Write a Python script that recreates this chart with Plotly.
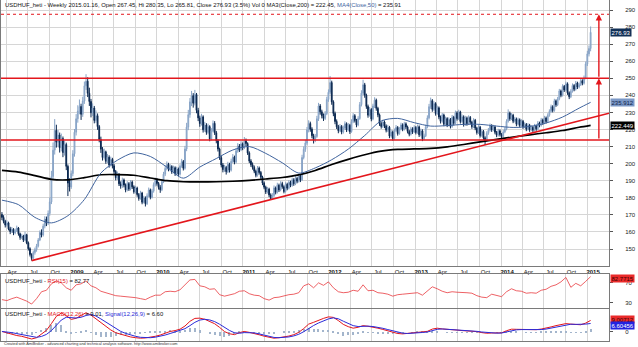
import pandas as pd
import plotly.graph_objects as go

# ---------------- weekly USDHUF bars (Friday closes) ----------------
opens = [
    170.2, 168.5, 166.2, 164.0, 165.3, 161.8, 160.2, 161.5, 159.4, 160.8,
    162.3, 158.9, 156.8, 157.6, 155.2, 158.4, 153.6, 150.2, 146.8, 144.5,
    147.9, 149.6, 151.8, 155.3, 159.7, 158.2, 163.4, 167.5, 165.1, 170.8,
    177.6, 192.4, 207.9, 219.5, 212.6, 216.8, 209.3, 214.7, 206.5, 211.2,
    198.4, 188.6, 186.3, 194.2, 205.8, 218.4, 226.3, 230.8, 233.5, 228.9,
    236.7, 245.6, 248.3, 241.2, 236.4, 229.8, 232.6, 225.3, 228.1, 221.7,
    214.2, 208.5, 203.6, 206.9, 201.4, 203.8, 199.2, 202.5, 198.7, 195.4,
    191.8, 193.6, 188.2, 186.9, 190.4, 187.5, 184.6, 188.3, 185.1, 189.2,
    186.4, 183.5, 185.7, 181.9, 179.6, 182.8, 177.4, 179.9, 176.5, 181.2,
    184.6, 180.3, 183.9, 187.7, 190.2, 188.4, 186.1, 184.7, 189.5, 193.8,
    197.2, 199.6, 196.8, 198.3, 195.2, 197.6, 194.1, 196.9, 193.8, 198.5,
    201.2, 197.3, 208.6, 221.4, 228.7, 236.2, 239.8, 235.4, 240.5, 231.2,
    226.8, 223.5, 227.4, 219.8, 222.6, 218.3, 221.7, 214.5, 219.2, 223.6,
    218.1, 213.4, 208.6, 203.5, 199.2, 196.5, 197.8, 195.3, 199.6, 196.2,
    201.4, 203.8, 200.9, 207.5, 210.3, 208.1, 211.6, 209.2, 213.4, 211.8,
    206.3, 201.5, 199.4, 197.8, 195.6, 193.2, 197.4, 194.8, 192.1, 188.6,
    186.2, 183.4, 185.1, 181.7, 179.5, 181.3, 185.8, 183.2, 187.4, 184.6,
    188.3, 186.5, 183.7, 187.9, 185.6, 189.1, 187.3, 190.6, 188.2, 191.4,
    189.7, 192.8, 190.5, 203.6, 208.4, 212.1, 219.8, 223.5, 220.2, 216.4,
    213.7, 215.9, 226.3, 233.8, 230.4, 228.1, 226.5, 229.3, 237.6, 241.8,
    247.5, 236.2, 229.4, 224.7, 221.6, 219.3, 221.8, 218.5, 220.9, 223.4,
    219.7, 222.5, 218.8, 224.6, 228.1, 225.3, 222.7, 226.4, 234.6, 241.3,
    246.2, 240.1, 233.5, 228.4, 231.7, 226.2, 233.8, 237.2, 232.4, 228.6,
    223.5, 221.8, 224.4, 222.1, 219.6, 221.3, 216.2, 218.5, 214.8, 219.4,
    221.2, 217.6, 220.3, 222.7, 220.1, 223.3, 221.5, 218.9, 217.2, 220.4,
    218.6, 221.2, 218.3, 221.6, 216.9, 219.2, 214.6, 216.3, 221.5, 226.8,
    233.4, 236.9, 231.8, 235.2, 229.4, 232.7, 227.3, 224.8, 228.5, 223.1,
    226.4, 222.6, 225.9, 221.8, 227.2, 223.6, 229.8, 226.4, 230.3, 224.7,
    227.5, 222.9, 226.8, 223.4, 227.1, 224.3, 221.6, 225.4, 220.8, 218.2,
    221.3, 216.5, 218.9, 215.1, 213.6, 217.8, 219.6, 222.3, 219.8, 221.5,
    218.4, 216.7, 219.2, 217.1, 215.9, 218.6, 220.3, 224.8, 229.6, 226.3,
    228.4, 224.9, 226.2, 223.1, 225.7, 222.4, 224.8, 221.6, 223.0, 220.2,
    222.5, 219.8, 221.3, 219.6, 222.1, 220.4, 223.8, 222.5, 225.6, 223.9,
    226.8, 224.7, 228.3, 230.6, 233.4, 231.2, 236.8, 234.5, 237.9, 242.6,
    240.1, 245.3, 243.2, 246.8, 241.5, 239.2, 242.4, 245.8, 243.6, 247.2,
    244.9, 246.3, 248.6, 247.1, 250.2, 258.4, 264.3, 267.45,
]
highs = [
    171.6, 169.8, 167.1, 166.8, 166.0, 163.0, 162.9, 162.2, 161.9, 163.7,
    162.9, 159.6, 158.9, 158.3, 160.1, 158.9, 154.4, 151.0, 147.5, 149.1,
    150.8, 153.0, 156.4, 160.9, 161.5, 164.8, 169.2, 169.0, 172.6, 180.2,
    195.8, 212.4, 226.1, 222.8, 219.7, 218.2, 217.6, 215.9, 213.5, 212.3,
    199.5, 191.4, 196.0, 207.9, 220.3, 229.0, 234.2, 237.6, 235.1, 239.2,
    248.1, 252.4, 250.6, 244.5, 237.9, 235.3, 233.8, 231.2, 229.4, 222.6,
    215.8, 209.7, 208.8, 207.6, 205.7, 204.9, 204.1, 203.4, 199.8, 196.3,
    195.4, 194.5, 189.6, 191.8, 191.3, 188.4, 189.7, 189.2, 190.4, 190.1,
    187.3, 187.0, 186.5, 182.8, 184.1, 183.5, 181.2, 180.8, 182.6, 186.0,
    185.4, 185.2, 189.0, 191.8, 191.5, 189.3, 187.4, 190.8, 195.2, 198.9,
    201.3, 200.5, 199.7, 199.1, 198.8, 198.4, 198.2, 197.7, 199.6, 202.8,
    202.1, 210.4, 223.9, 231.5, 238.4, 242.6, 241.3, 243.2, 241.4, 232.7,
    228.1, 229.2, 228.3, 224.5, 223.7, 223.4, 222.5, 220.8, 225.3, 224.9,
    219.2, 214.3, 209.4, 204.6, 200.4, 199.3, 198.7, 201.1, 200.5, 202.9,
    205.6, 204.7, 209.1, 212.0, 211.5, 213.2, 212.4, 215.6, 214.7, 212.5,
    207.2, 202.6, 200.7, 198.9, 196.5, 198.6, 198.3, 195.7, 192.9, 189.5,
    187.1, 186.4, 185.9, 182.6, 182.7, 187.2, 186.6, 188.8, 188.3, 189.7,
    189.4, 187.3, 189.1, 188.8, 190.3, 190.0, 191.8, 191.5, 192.7, 192.3,
    194.1, 193.6, 205.2, 210.1, 214.0, 221.5, 225.4, 224.6, 221.3, 217.5,
    217.4, 228.0, 235.6, 234.9, 231.6, 229.4, 230.8, 239.2, 243.5, 251.3,
    248.6, 237.1, 230.5, 225.9, 222.7, 223.2, 222.6, 222.3, 224.8, 224.2,
    223.8, 223.3, 226.0, 229.6, 229.0, 226.2, 227.8, 236.1, 243.0, 249.1,
    247.3, 241.0, 234.6, 233.2, 232.5, 235.1, 238.9, 238.1, 233.3, 229.4,
    224.7, 225.8, 225.3, 223.0, 222.7, 222.1, 219.8, 219.4, 220.6, 222.6,
    222.0, 221.5, 224.0, 223.6, 224.5, 224.2, 222.3, 219.8, 221.6, 221.3,
    222.5, 222.0, 222.9, 222.4, 220.5, 220.1, 217.6, 222.8, 228.3, 235.0,
    238.7, 237.8, 236.5, 236.0, 234.0, 233.5, 228.2, 229.7, 229.3, 227.6,
    227.2, 227.1, 226.7, 228.5, 228.0, 231.1, 230.7, 231.6, 231.0, 228.8,
    228.3, 228.0, 227.6, 228.3, 227.9, 225.1, 226.6, 226.2, 221.6, 222.5,
    222.1, 220.1, 219.7, 216.0, 219.0, 220.9, 223.5, 223.1, 222.7, 222.3,
    219.2, 220.4, 220.0, 217.9, 219.8, 221.5, 226.0, 231.8, 230.5, 229.6,
    229.2, 227.4, 227.0, 226.9, 226.5, 226.0, 225.6, 224.2, 223.8, 223.7,
    223.3, 222.5, 222.1, 223.3, 222.9, 225.0, 224.6, 226.8, 226.4, 228.0,
    227.6, 229.5, 231.8, 234.6, 234.2, 238.0, 237.6, 239.1, 243.8, 243.4,
    246.5, 246.1, 248.0, 247.6, 242.3, 243.6, 247.0, 246.6, 248.4, 248.0,
    247.5, 249.8, 249.4, 251.6, 259.8, 266.1, 269.2, 280.35,
]
lows = [
    166.9, 165.0, 162.6, 163.1, 160.9, 158.7, 159.4, 158.1, 158.6, 160.0,
    157.8, 155.4, 155.9, 154.1, 154.6, 152.8, 149.1, 145.6, 143.2, 143.9,
    146.7, 148.4, 150.9, 154.6, 156.8, 157.3, 162.1, 163.4, 164.0, 169.5,
    176.3, 190.6, 205.3, 209.4, 210.1, 206.5, 207.2, 203.8, 204.7, 196.2,
    181.0, 183.7, 185.2, 192.6, 204.1, 216.5, 224.0, 228.9, 225.6, 227.4,
    235.0, 243.2, 239.0, 233.8, 227.1, 227.9, 223.6, 223.9, 219.8, 212.5,
    206.3, 201.8, 202.4, 199.9, 200.2, 197.6, 198.3, 197.2, 194.0, 190.2,
    190.5, 186.9, 185.3, 185.8, 186.1, 183.2, 183.8, 184.0, 184.3, 185.2,
    182.4, 182.6, 180.6, 178.3, 178.9, 176.2, 176.7, 174.9, 175.8, 180.3,
    179.1, 179.6, 183.0, 186.6, 187.1, 184.8, 182.9, 183.9, 188.6, 192.7,
    196.1, 195.5, 195.6, 194.0, 194.3, 192.8, 193.3, 192.5, 193.0, 197.6,
    196.0, 196.5, 207.3, 219.6, 226.9, 233.7, 232.8, 234.1, 229.5, 224.9,
    221.6, 222.3, 218.2, 218.6, 216.9, 217.2, 213.1, 213.6, 218.4, 216.8,
    211.9, 207.1, 202.2, 197.8, 194.9, 195.2, 193.6, 194.5, 194.8, 195.4,
    200.3, 199.6, 200.1, 206.4, 206.8, 207.3, 207.9, 208.5, 210.2, 205.1,
    200.3, 198.1, 196.5, 194.4, 192.0, 192.4, 193.6, 190.9, 187.4, 185.0,
    182.2, 182.5, 180.4, 179.0, 179.3, 180.5, 182.0, 182.5, 183.4, 183.8,
    185.3, 182.6, 183.0, 184.4, 184.9, 186.2, 186.5, 187.0, 187.4, 188.5,
    188.9, 189.2, 189.8, 202.5, 206.9, 211.0, 218.3, 218.7, 214.9, 211.8,
    212.6, 215.1, 225.0, 228.7, 226.5, 225.0, 225.6, 228.4, 236.2, 240.6,
    234.5, 227.8, 223.1, 220.3, 217.8, 218.4, 217.2, 217.6, 219.9, 218.5,
    218.9, 217.4, 218.1, 223.7, 224.1, 221.3, 221.9, 225.7, 233.5, 240.0,
    238.6, 232.1, 226.9, 227.5, 224.8, 225.4, 232.6, 231.0, 227.2, 222.1,
    220.5, 220.9, 220.8, 218.3, 218.5, 214.9, 215.3, 213.5, 214.0, 218.5,
    216.4, 216.9, 219.5, 219.0, 219.4, 220.3, 217.7, 216.0, 216.5, 217.4,
    217.9, 217.1, 217.5, 215.6, 216.0, 213.2, 213.8, 215.6, 220.7, 225.9,
    232.1, 230.4, 230.9, 228.1, 228.6, 226.0, 223.5, 224.0, 221.9, 222.3,
    221.4, 221.8, 220.6, 221.0, 222.4, 222.9, 225.2, 225.6, 223.5, 223.9,
    221.7, 222.1, 222.2, 222.6, 223.1, 220.4, 220.8, 219.6, 217.0, 217.4,
    215.3, 215.7, 213.9, 210.9, 212.8, 216.9, 218.8, 218.6, 219.0, 217.2,
    215.5, 215.9, 215.9, 213.8, 215.1, 217.8, 219.5, 224.0, 225.1, 225.5,
    223.7, 224.1, 221.9, 222.3, 221.2, 221.6, 220.4, 220.8, 219.0, 219.4,
    218.6, 219.0, 218.4, 218.8, 219.2, 219.6, 221.3, 221.7, 222.7, 223.1,
    223.5, 223.9, 227.5, 229.8, 230.0, 230.4, 233.3, 233.7, 237.1, 238.9,
    239.3, 242.0, 242.4, 240.3, 237.8, 238.4, 241.6, 242.4, 242.8, 243.7,
    244.1, 245.5, 245.9, 246.3, 249.4, 257.2, 262.8, 265.81,
]
closes = [
    168.5, 166.2, 164.0, 165.3, 161.8, 160.2, 161.5, 159.4, 160.8, 162.3,
    158.9, 156.8, 157.6, 155.2, 158.4, 153.6, 150.2, 146.8, 144.5, 147.9,
    149.6, 151.8, 155.3, 159.7, 158.2, 163.4, 167.5, 165.1, 170.8, 177.6,
    192.4, 207.9, 219.5, 212.6, 216.8, 209.3, 214.7, 206.5, 211.2, 198.4,
    188.6, 186.3, 194.2, 205.8, 218.4, 226.3, 230.8, 233.5, 228.9, 236.7,
    245.6, 248.3, 241.2, 236.4, 229.8, 232.6, 225.3, 228.1, 221.7, 214.2,
    208.5, 203.6, 206.9, 201.4, 203.8, 199.2, 202.5, 198.7, 195.4, 191.8,
    193.6, 188.2, 186.9, 190.4, 187.5, 184.6, 188.3, 185.1, 189.2, 186.4,
    183.5, 185.7, 181.9, 179.6, 182.8, 177.4, 179.9, 176.5, 181.2, 184.6,
    180.3, 183.9, 187.7, 190.2, 188.4, 186.1, 184.7, 189.5, 193.8, 197.2,
    199.6, 196.8, 198.3, 195.2, 197.6, 194.1, 196.9, 193.8, 198.5, 201.2,
    197.3, 208.6, 221.4, 228.7, 236.2, 239.8, 235.4, 240.5, 231.2, 226.8,
    223.5, 227.4, 219.8, 222.6, 218.3, 221.7, 214.5, 219.2, 223.6, 218.1,
    213.4, 208.6, 203.5, 199.2, 196.5, 197.8, 195.3, 199.6, 196.2, 201.4,
    203.8, 200.9, 207.5, 210.3, 208.1, 211.6, 209.2, 213.4, 211.8, 206.3,
    201.5, 199.4, 197.8, 195.6, 193.2, 197.4, 194.8, 192.1, 188.6, 186.2,
    183.4, 185.1, 181.7, 179.5, 181.3, 185.8, 183.2, 187.4, 184.6, 188.3,
    186.5, 183.7, 187.9, 185.6, 189.1, 187.3, 190.6, 188.2, 191.4, 189.7,
    192.8, 190.5, 203.6, 208.4, 212.1, 219.8, 223.5, 220.2, 216.4, 213.7,
    215.9, 226.3, 233.8, 230.4, 228.1, 226.5, 229.3, 237.6, 241.8, 247.5,
    236.2, 229.4, 224.7, 221.6, 219.3, 221.8, 218.5, 220.9, 223.4, 219.7,
    222.5, 218.8, 224.6, 228.1, 225.3, 222.7, 226.4, 234.6, 241.3, 246.2,
    240.1, 233.5, 228.4, 231.7, 226.2, 233.8, 237.2, 232.4, 228.6, 223.5,
    221.8, 224.4, 222.1, 219.6, 221.3, 216.2, 218.5, 214.8, 219.4, 221.2,
    217.6, 220.3, 222.7, 220.1, 223.3, 221.5, 218.9, 217.2, 220.4, 218.6,
    221.2, 218.3, 221.6, 216.9, 219.2, 214.6, 216.3, 221.5, 226.8, 233.4,
    236.9, 231.8, 235.2, 229.4, 232.7, 227.3, 224.8, 228.5, 223.1, 226.4,
    222.6, 225.9, 221.8, 227.2, 223.6, 229.8, 226.4, 230.3, 224.7, 227.5,
    222.9, 226.8, 223.4, 227.1, 224.3, 221.6, 225.4, 220.8, 218.2, 221.3,
    216.5, 218.9, 215.1, 213.6, 217.8, 219.6, 222.3, 219.8, 221.5, 218.4,
    216.7, 219.2, 217.1, 215.9, 218.6, 220.3, 224.8, 229.6, 226.3, 228.4,
    224.9, 226.2, 223.1, 225.7, 222.4, 224.8, 221.6, 223.0, 220.2, 222.5,
    219.8, 221.3, 219.6, 222.1, 220.4, 223.8, 222.5, 225.6, 223.9, 226.8,
    224.7, 228.3, 230.6, 233.4, 231.2, 236.8, 234.5, 237.9, 242.6, 240.1,
    245.3, 243.2, 246.8, 241.5, 239.2, 242.4, 245.8, 243.6, 247.2, 244.9,
    246.3, 248.6, 247.1, 250.2, 258.4, 264.3, 267.45, 276.93,
]
last_bar = "2015-01-16"
dates = pd.date_range(end=last_bar, periods=len(closes), freq="W-FRI")

# ---------------- moving averages (sampled bar numbers) ----------------
ma_bars = list(range(0, 351, 10)) + [357]
ma200 = [196.0, 195.0, 193.0, 190.8, 190.5, 191.8, 193.5, 193.6, 193.2, 191.6,
         190.0, 189.4, 189.3, 189.4, 189.7, 190.2, 191.0, 191.9, 193.4, 196.0,
         199.5, 202.5, 205.2, 207.3, 208.3, 208.6, 208.9, 209.8, 211.2, 212.8,
         214.2, 215.6, 216.9, 218.1, 219.4, 221.3, 222.449]
ma50 = [178.6, 176.0, 168.5, 165.3, 169.5, 179.0, 194.5, 202.0, 206.3, 204.2,
        198.0, 191.5, 198.0, 203.0, 208.0, 210.0, 206.0, 200.5, 194.5, 197.5,
        202.3, 208.5, 216.5, 225.0, 226.5, 224.0, 222.0, 222.3, 223.0, 223.0,
        222.0, 221.2, 221.8, 223.8, 227.3, 232.5, 235.912]

# ---------------- oscillators (every third bar) ----------------
osc_bars = list(range(0, 358, 3))
rsi15 = [36, 34, 38, 41, 37, 33, 27, 38, 52, 55,
         68, 74, 70, 60, 55, 66, 68, 74, 64, 60,
         53, 50, 47, 44, 43, 42, 42, 40, 38, 36,
         41, 45, 45, 52, 53, 52, 56, 66, 76, 77,
         64, 62, 57, 58, 46, 43, 45, 48, 53, 54,
         48, 45, 44, 38, 35, 40, 41, 44, 46, 47,
         50, 64, 68, 60, 70, 65, 72, 60, 52, 50,
         51, 55, 53, 66, 54, 55, 50, 49, 47, 43,
         46, 47, 48, 49, 50, 45, 53, 62, 58, 53,
         50, 52, 51, 51, 50, 49, 44, 41, 40, 47,
         44, 42, 52, 58, 54, 53, 49, 50, 49, 55,
         57, 63, 66, 72, 81, 61, 69, 64, 73, 82.7715]
macd_line = [0.3, -0.8, -2.2, -2.9, -3.5, -4.3, -5.6, -4.6, -1.8, 1.2,
             6.5, 12.2, 14.8, 12.8, 9.8, 10.7, 12.9, 15.1, 13.2, 10.3,
             6.9, 4.0, 1.5, -0.7, -2.0, -3.3, -4.0, -4.6, -5.0, -4.8,
             -4.3, -3.5, -2.5, -1.1, 0.3, 1.0, 2.1, 4.6, 8.3, 10.6,
             10.8, 9.9, 8.4, 6.4, 3.5, 0.2, -1.5, -2.2, -0.6, 0.3,
             -0.4, -1.2, -2.3, -3.4, -4.5, -5.0, -4.6, -4.2, -3.3, -2.2,
             -0.4, 2.6, 6.1, 7.5, 9.3, 10.6, 11.8, 11.4, 8.9, 5.9,
             4.1, 2.9, 3.6, 4.9, 4.4, 3.8, 2.9, 1.9, 0.9, -0.4,
             -1.3, -1.6, -1.3, -1.0, -0.6, -0.2, 0.4, 2.2, 2.9, 2.3,
             1.8, 1.5, 1.4, 1.0, 0.8, 0.5, 0.2, -0.6, -1.1, -0.9,
             -1.1, -0.8, 0.9, 2.1, 2.0, 1.8, 1.6, 1.5, 1.7, 2.2,
             2.8, 3.9, 4.9, 5.8, 6.5, 6.1, 5.8, 5.6, 6.9, 9.00712]
macd_signal = [0.3, 0.0, -0.6, -1.4, -2.1, -2.9, -3.8, -4.3, -3.6, -2.0,
               1.0, 5.2, 9.3, 11.5, 11.3, 10.9, 11.5, 12.9, 13.6, 12.5,
               10.2, 7.6, 4.9, 2.4, 0.4, -1.2, -2.5, -3.5, -4.3, -4.7,
               -4.6, -4.2, -3.5, -2.5, -1.3, -0.2, 0.9, 2.5, 4.9, 7.5,
               9.3, 9.9, 9.4, 8.1, 6.0, 3.5, 1.1, -0.7, -1.1, -0.6,
               -0.4, -0.8, -1.6, -2.6, -3.6, -4.4, -4.6, -4.5, -4.0, -3.2,
               -1.9, 0.1, 2.8, 5.0, 7.0, 8.7, 10.2, 11.0, 10.3, 8.4,
               6.5, 4.9, 4.2, 4.4, 4.5, 4.2, 3.6, 2.8, 1.8, 0.7,
               -0.3, -1.0, -1.3, -1.2, -0.9, -0.5, -0.1, 1.0, 2.0, 2.3,
               2.1, 1.8, 1.6, 1.3, 1.0, 0.7, 0.4, -0.1, -0.6, -0.9,
               -1.0, -0.9, -0.1, 1.0, 1.6, 1.8, 1.7, 1.6, 1.6, 1.8,
               2.2, 3.0, 3.9, 4.8, 5.7, 6.0, 5.9, 5.7, 6.1, 6.60456]

# ---------------- drawn levels ----------------
resistance = 250.0
support = 213.9
target = 287.5
trend_start = ("2008-07-18", 143.2)
trend_end = ("2015-04-04", 229.5)
arrow_date = "2015-02-20"
view = ["2008-03-10", "2015-04-04"]

# ---------------- styling ----------------
FONT = "Liberation Sans, Arial, sans-serif"
GRID = "#d6d6d6"
FRAME = "#7a7a7a"
UP_FILL, UP_EDGE = "#b4c7de", "#87a3c6"
DOWN = "#0b2850"
RED = "#e3161c"
MA50_COL = "#40649e"
W, H = 638, 347


def py(px):
    """Paper y from a pixel row measured from the top."""
    return 1 - px / H


X_DOM = [1 / W, 609 / W]

fig = go.Figure()

fig.add_trace(go.Candlestick(
    x=dates, open=opens, high=highs, low=lows, close=closes,
    increasing=dict(line=dict(color=UP_EDGE, width=1), fillcolor=UP_FILL),
    decreasing=dict(line=dict(color=DOWN, width=1), fillcolor=DOWN),
    whiskerwidth=0, hoverinfo="skip", xaxis="x", yaxis="y"))

ma_dates = dates[ma_bars]
fig.add_trace(go.Scatter(x=ma_dates, y=ma200, mode="lines", hoverinfo="skip",
                         line=dict(color="black", width=1.7, shape="spline", smoothing=0.8),
                         xaxis="x", yaxis="y"))
fig.add_trace(go.Scatter(x=ma_dates, y=ma50, mode="lines", hoverinfo="skip",
                         line=dict(color=MA50_COL, width=1, shape="spline", smoothing=0.8),
                         xaxis="x", yaxis="y"))

osc_dates = dates[osc_bars]
fig.add_trace(go.Scatter(x=osc_dates, y=rsi15, mode="lines", hoverinfo="skip",
                         line=dict(color="#e8383d", width=0.8), xaxis="x2", yaxis="y2"))

hist = [m - s for m, s in zip(macd_line, macd_signal)]
fig.add_trace(go.Bar(x=osc_dates, y=hist, marker=dict(color="#a3b5cc", line=dict(width=0)),
                     width=5 * 86400000, hoverinfo="skip", xaxis="x3", yaxis="y3"))
fig.add_trace(go.Scatter(x=osc_dates, y=macd_line, mode="lines", hoverinfo="skip",
                         line=dict(color="#e3161c", width=1), xaxis="x3", yaxis="y3"))
fig.add_trace(go.Scatter(x=osc_dates, y=macd_signal, mode="lines", hoverinfo="skip",
                         line=dict(color="#2b2bd8", width=1), xaxis="x3", yaxis="y3"))

# quarterly date ticks
ticks = pd.date_range("2008-04-01", "2015-01-01", freq="QS")
tick_text = [f"<b>{d.year}</b>" if d.month == 1 else d.strftime("%b") for d in ticks]

common_x = dict(type="date", range=view, tickvals=ticks, showgrid=True, gridcolor=GRID,
                gridwidth=1, showline=True, linecolor=FRAME, linewidth=1, mirror=True,
                zeroline=False, fixedrange=True)
common_y = dict(side="right", showline=True, linecolor=FRAME, linewidth=1, mirror=True,
                zeroline=False, ticks="outside", ticklen=3, tickcolor="#555",
                ticklabelstandoff=11, tickfont=dict(size=6, color="#222"), fixedrange=True)

fig.update_layout(
    width=W, height=H, margin=dict(l=0, r=0, t=0, b=0),
    paper_bgcolor="white", plot_bgcolor="white", showlegend=False,
    font=dict(family=FONT, size=6, color="#111"), hovermode=False, bargap=0,
    xaxis=dict(domain=X_DOM, anchor="y", ticktext=tick_text, ticks="",
               ticklabelshift=6, tickfont=dict(size=6, color="#111"),
               rangeslider=dict(visible=False), **common_x),
    xaxis2=dict(domain=X_DOM, anchor="y2", matches="x", showticklabels=False, **common_x),
    xaxis3=dict(domain=X_DOM, anchor="y3", matches="x", showticklabels=False, **common_x),
    yaxis=dict(domain=[py(266), 1], range=[140.04, 295.86],
               tickvals=list(range(150, 300, 10)), showgrid=True, gridcolor=GRID, **common_y),
    yaxis2=dict(domain=[py(307.5), py(274)], range=[20, 88], tickvals=[30, 70],
                showgrid=False, **common_y),
    yaxis3=dict(domain=[py(341), py(308.5)], range=[-7.2, 18.4], tickvals=[0],
                showgrid=False, **common_y),
)

# support / resistance / target levels and the rising trend line
shapes = [
    dict(type="line", xref="x", yref="y", x0=view[0], x1=view[1], y0=resistance, y1=resistance,
         line=dict(color=RED, width=1.5)),
    dict(type="line", xref="x", yref="y", x0=view[0], x1=view[1], y0=support, y1=support,
         line=dict(color=RED, width=1.5)),
    dict(type="line", xref="x", yref="y", x0=view[0], x1=view[1], y0=target, y1=target,
         line=dict(color=RED, width=1, dash="dot")),
    dict(type="line", xref="x", yref="y", x0=trend_start[0], y0=trend_start[1],
         x1=trend_end[0], y1=trend_end[1], line=dict(color=RED, width=1.6)),
]
fig.update_layout(shapes=shapes)

ann = []
# measured-move arrows
for lo, hi in [(support, resistance), (resistance, target)]:
    ann.append(dict(x=arrow_date, y=hi, ax=arrow_date, ay=lo, xref="x", yref="y",
                    axref="x", ayref="y", text="", showarrow=True, arrowhead=2,
                    arrowsize=0.9, arrowwidth=1.4, arrowcolor=RED, standoff=0))

# panel titles
chg = (closes[-1] / closes[-2] - 1) * 100
title_main = (f"USDHUF_heti - Weekly {pd.Timestamp(last_bar):%Y.%m.%d}, Open {opens[-1]:.2f}, "
              f"Hi {highs[-1]:.2f}, Lo {lows[-1]:.2f}, Close {closes[-1]:.2f} ({chg:.1f}%) Vol 0 "
              f"MA3(Close,200) = {ma200[-1]:.2f}, "
              f"<span style='color:{MA50_COL}'>MA4(Close,50)</span> = {ma50[-1]:.2f}")
title_rsi = f"USDHUF_heti - <span style='color:#e3161c'>RSI(15)</span> = {rsi15[-1]:.2f}"
title_macd = (f"USDHUF_heti - <span style='color:#e3161c'>MACD(12,26)</span> = {macd_line[-1]:.2f}, "
              f"<span style='color:#2b2bd8'>Signal(12,26,9)</span> = {macd_signal[-1]:.2f}")
for txt, ypx in [(title_main, 5), (title_rsi, 280.5), (title_macd, 313.5)]:
    ann.append(dict(text=txt, xref="paper", yref="paper", x=2.5 / W, y=py(ypx),
                    xanchor="left", yanchor="middle", showarrow=False,
                    font=dict(size=5.9, color="#111")))

ann.append(dict(text="Created with AmiBroker - advanced charting and technical analysis software. "
                     "http://www.amibroker.com",
                xref="paper", yref="paper", x=2 / W, y=py(344), xanchor="left",
                yanchor="middle", showarrow=False, font=dict(size=3.8, color="#333")))

# last-value tags on the right-hand scale
tags = [
    ("y", closes[-1], f"{closes[-1]:.2f}", "#123056", "white", 0),
    ("y", ma50[-1], f"{ma50[-1]:.3f}", "#7b98c6", "#10244a", 0),
    ("y", ma200[-1], f"{ma200[-1]:.3f}", "black", "white", 0),
    ("y2", rsi15[-1], f"{rsi15[-1]:.4f}", "#ea2a2a", "#3a0000", -1.5),
    ("y3", macd_line[-1], f"{macd_line[-1]:.5f}", "#ea2a2a", "#3a0000", 1),
    ("y3", macd_signal[-1], f"{macd_signal[-1]:.5f}", "#2323e0", "white", -2.5),
]
for yref, val, txt, bg, fg, shift in tags:
    ann.append(dict(text=txt, xref="paper", yref=yref, x=609.5 / W, y=val, xanchor="left",
                    yanchor="middle", yshift=shift, showarrow=False, bgcolor=bg, borderpad=0.5,
                    font=dict(size=6, color=fg)))

fig.update_layout(annotations=ann)

fig.write_html("out.html")
